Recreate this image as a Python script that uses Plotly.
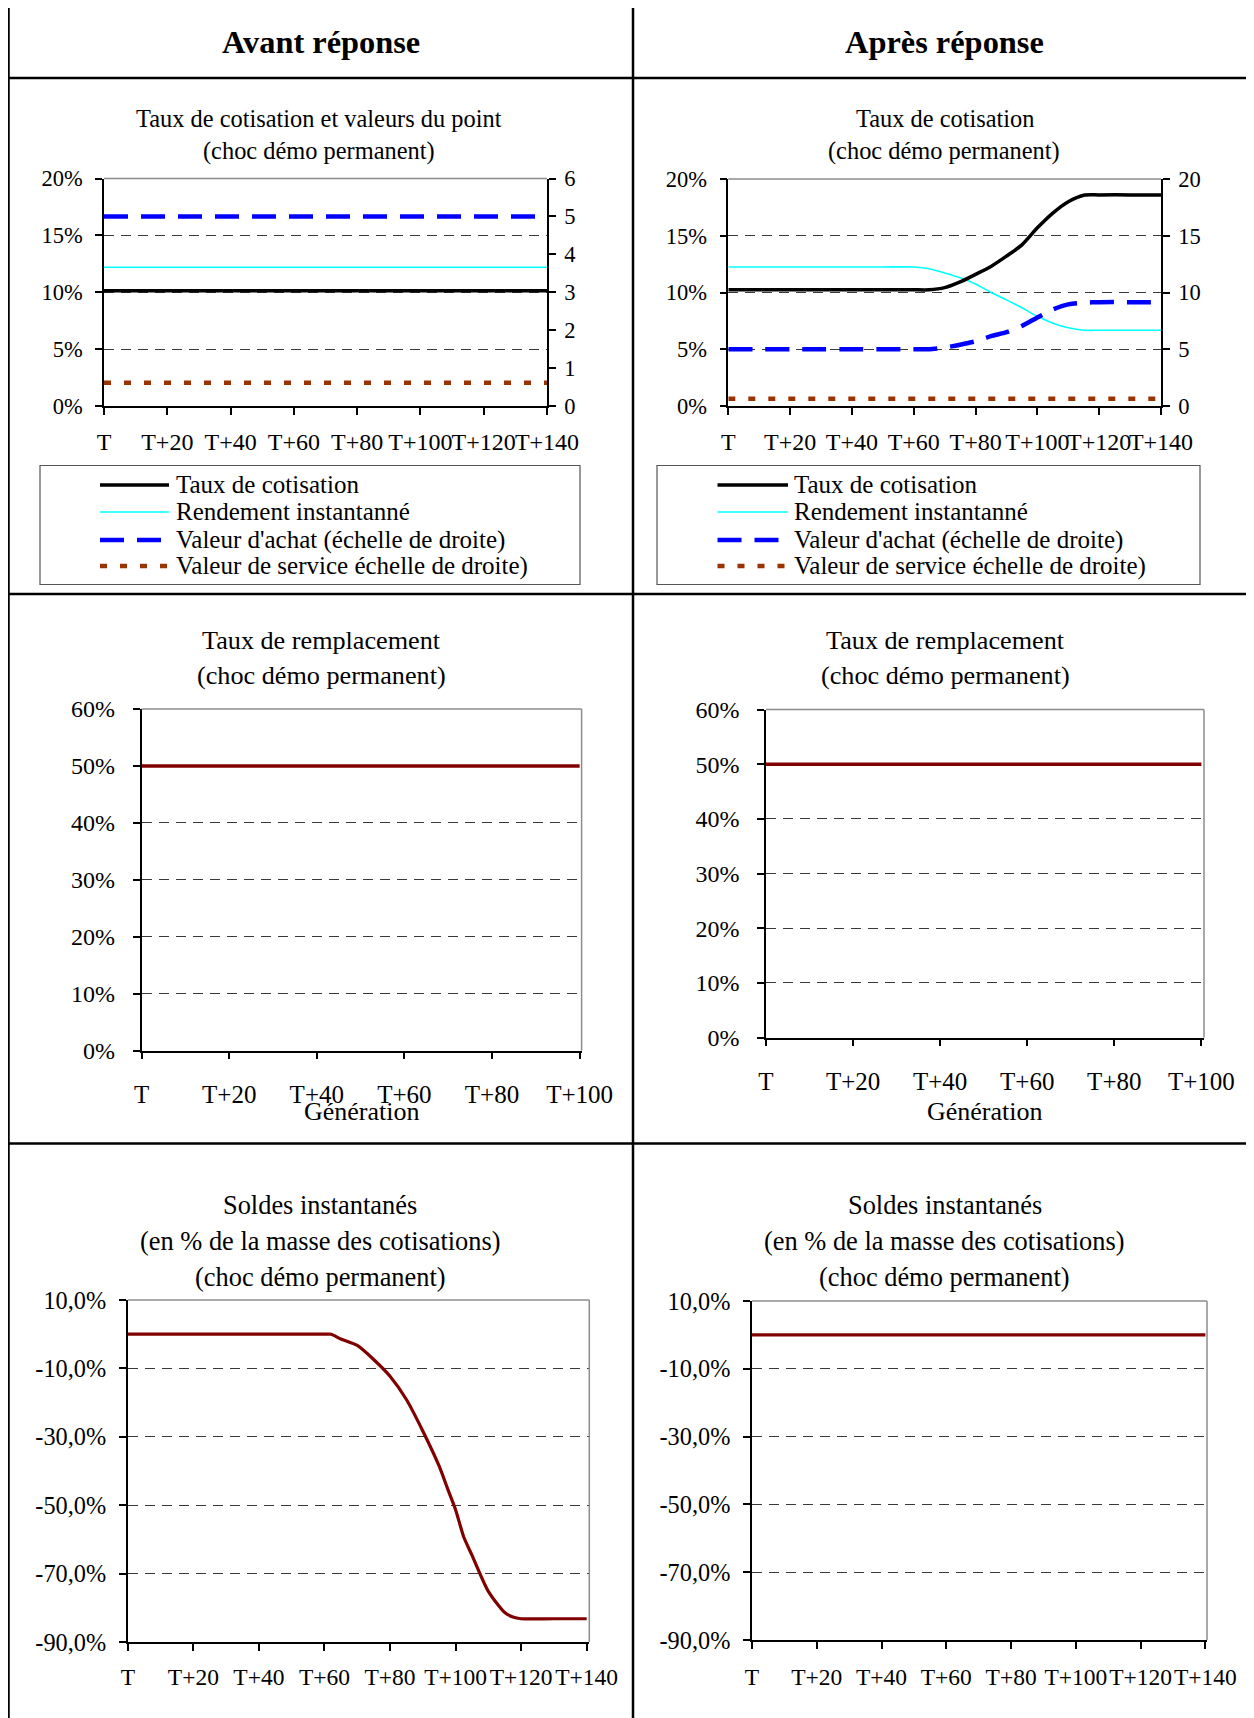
import plotly.graph_objects as go

W, H = 1254, 1718
FONT = "Liberation Serif"

# ---------------- data ----------------
TICKS_140 = [0, 20, 40, 60, 80, 100, 120, 140]
LABELS_140 = ["T", "T+20", "T+40", "T+60", "T+80", "T+100", "T+120", "T+140"]
TICKS_100 = [0, 20, 40, 60, 80, 100]
LABELS_100 = ["T", "T+20", "T+40", "T+60", "T+80", "T+100"]

HEADERS = ["Avant réponse", "Après réponse"]
LEGEND_NAMES = ["Taux de cotisation", "Rendement instantanné",
                "Valeur d'achat (échelle de droite)", "Valeur de service échelle de droite)"]

# Chart 1 : avant réponse (% left, point values right 0-6)
gen_flat = [0, 140]
avant_taux = [10.15, 10.15]
avant_rend = [12.2, 12.2]
avant_achat = [5.0, 5.0]
avant_service = [0.62, 0.62]

# Chart 2 : après réponse (% left, point values right 0-20)
gen_apres = [0, 10, 20, 30, 40, 50, 60, 65, 70, 75, 80, 85, 90, 95, 100, 105, 110, 115, 120, 130, 140]
apres_taux = [10.24, 10.24, 10.24, 10.24, 10.24, 10.24, 10.24, 10.24, 10.43, 10.93, 11.6, 12.3,
              13.2, 14.2, 15.7, 17.0, 18.0, 18.57, 18.6, 18.6, 18.6]
apres_rend = [12.25, 12.25, 12.25, 12.25, 12.25, 12.25, 12.25, 12.1, 11.72, 11.3, 10.75, 10.0,
              9.35, 8.65, 7.9, 7.3, 6.9, 6.68, 6.67, 6.67, 6.67]
apres_achat = [5.0, 5.0, 5.0, 5.0, 5.0, 5.0, 5.0, 5.0, 5.15, 5.4, 5.7, 6.15,
               6.5, 7.05, 7.8, 8.5, 8.95, 9.1, 9.15, 9.15, 9.15]
apres_service = [0.64, 0.64]

# Taux de remplacement (%)
gen_rempl = [0, 100]
avant_rempl = [50.0, 50.0]
apres_rempl = [50.0, 50.0]

# Soldes instantanés (% de la masse des cotisations)
gen_soldes = [0, 20, 40, 60, 62, 65, 70, 75, 80, 85, 90, 95, 97.5, 100, 102.5, 105, 110, 115,
              117.5, 120, 130, 140]
avant_soldes = [0.0, 0.0, 0.0, 0.0, 0.0, -1.4, -3.3, -7.4, -12.3, -19.1, -28.3, -38.6, -45.0,
                -51.3, -59.3, -64.6, -75.2, -81.4, -82.7, -83.2, -83.2, -83.2]
apres_soldes = [0.0, 0.0]
SOLDES_TICKS = [10, -10, -30, -50, -70, -90]
SOLDES_LABELS = ["10,0%", "-10,0%", "-30,0%", "-50,0%", "-70,0%", "-90,0%"]

# ---------------- helpers ----------------
OFF = 8  # page body margin


def px(x):
    return (x - OFF) / W


def py(y):
    return 1 - (y - OFF) / H


def dom_x(a, b):
    return [px(a), px(b)]


def dom_y(top, bottom):
    return [py(bottom), py(top)]


def tf(size):
    return dict(family=FONT, size=size, color="black")


GRID = dict(showgrid=True, gridcolor="#3a3a3a", gridwidth=1, griddash="10px,7px")

fig = go.Figure()

C_TAUX = dict(color="black", width=3.5)
C_REND = dict(color="#00FFFF", width=1.6)
C_ACHAT = dict(color="#0000FF", width=4.5, dash="24px,13px")
C_SERV = dict(color="#993300", width=4.5, dash="7px,13px")
C_RED = dict(color="#800000", width=3.5)


def smooth(style):
    return dict(style, shape="spline", smoothing=0.7)


# chart 1
fig.add_trace(go.Scatter(x=gen_flat, y=avant_taux, mode="lines", line=C_TAUX, xaxis="x", yaxis="y", name=LEGEND_NAMES[0]))
fig.add_trace(go.Scatter(x=gen_flat, y=avant_rend, mode="lines", line=C_REND, xaxis="x", yaxis="y", name=LEGEND_NAMES[1]))
fig.add_trace(go.Scatter(x=gen_flat, y=avant_achat, mode="lines", line=C_ACHAT, xaxis="x", yaxis="y2", name=LEGEND_NAMES[2]))
fig.add_trace(go.Scatter(x=gen_flat, y=avant_service, mode="lines", line=C_SERV, xaxis="x", yaxis="y2", name=LEGEND_NAMES[3]))
# chart 2
fig.add_trace(go.Scatter(x=gen_apres, y=apres_rend, mode="lines", line=smooth(C_REND), xaxis="x2", yaxis="y3", name=LEGEND_NAMES[1]))
fig.add_trace(go.Scatter(x=gen_apres, y=apres_taux, mode="lines", line=smooth(C_TAUX), xaxis="x2", yaxis="y3", name=LEGEND_NAMES[0]))
fig.add_trace(go.Scatter(x=gen_apres, y=apres_achat, mode="lines", line=smooth(C_ACHAT), xaxis="x2", yaxis="y4", name=LEGEND_NAMES[2]))
fig.add_trace(go.Scatter(x=gen_flat, y=apres_service, mode="lines", line=C_SERV, xaxis="x2", yaxis="y4", name=LEGEND_NAMES[3]))
# chart 3/4
fig.add_trace(go.Scatter(x=gen_rempl, y=avant_rempl, mode="lines", line=C_RED, xaxis="x3", yaxis="y5", name="Taux de remplacement"))
fig.add_trace(go.Scatter(x=gen_rempl, y=apres_rempl, mode="lines", line=C_RED, xaxis="x4", yaxis="y6", name="Taux de remplacement"))
# chart 5/6
fig.add_trace(go.Scatter(x=gen_soldes, y=avant_soldes, mode="lines",
                         line=smooth(dict(color="#800000", width=3.2)), xaxis="x5", yaxis="y7", name="Soldes"))
fig.add_trace(go.Scatter(x=gen_flat, y=apres_soldes, mode="lines", line=dict(color="#800000", width=3.2), xaxis="x6", yaxis="y8", name="Soldes"))


def xaxis(domain, anchor, ticks, labels, rng, standoff, size):
    return dict(domain=domain, anchor=anchor, range=rng, tickmode="array", tickvals=ticks,
                ticktext=labels, showline=True, linecolor="black", linewidth=1.5,
                ticks="outside", ticklen=7, tickwidth=1.5, tickcolor="black",
                showgrid=False, zeroline=False, tickfont=tf(size), ticklabelstandoff=int(standoff),
                tickangle=0, automargin=False, fixedrange=True)


def yaxis(domain, anchor, rng, size, dtick=None, suffix="", tickvals=None, ticktext=None, standoff=10):
    d = dict(domain=domain, anchor=anchor, range=rng, showline=True, linecolor="black",
             linewidth=1.5, ticks="outside", ticklen=7, tickwidth=1.5, tickcolor="black",
             zeroline=False, tickfont=tf(size), ticklabelstandoff=int(standoff), automargin=False,
             fixedrange=True, **GRID)
    if tickvals is not None:
        d.update(tickmode="array", tickvals=tickvals, ticktext=ticktext)
    else:
        d.update(dtick=dtick, tick0=0, ticksuffix=suffix)
    return d


def y2axis(overlay, anchor, rng, dtick, size):
    return dict(overlaying=overlay, anchor=anchor, side="right", range=rng, dtick=dtick, tick0=0,
                showline=True, linecolor="black", linewidth=1.5, ticks="outside", ticklen=7,
                tickwidth=1.5, tickcolor="black", showgrid=False, zeroline=False,
                tickfont=tf(size), ticklabelstandoff=4, automargin=False, fixedrange=True)


D1x, D1y = dom_x(104, 547), dom_y(178.5, 406.2)
D2x, D2y = dom_x(728.3, 1161), dom_y(179, 406)
D3x, D3y = dom_x(141.6, 581.6), dom_y(709, 1050.7)
D4x, D4y = dom_x(766, 1204), dom_y(709.6, 1037.5)
D5x, D5y = dom_x(127.8, 589.3), dom_y(1300, 1642)
D6x, D6y = dom_x(752, 1207), dom_y(1301, 1640)

fig.update_layout(
    width=W, height=H, margin=dict(l=0, r=0, t=0, b=0, autoexpand=False),
    paper_bgcolor="white", plot_bgcolor="white", showlegend=False,
    font=dict(family=FONT, color="black"),
    xaxis=xaxis(D1x, "y", TICKS_140, LABELS_140, [0, 140], 6, 24),
    yaxis=yaxis(D1y, "x", [0, 20], 22.5, dtick=5, suffix="%", standoff=8),
    yaxis2=y2axis("y", "x", [0, 6], 1, 22.5),
    xaxis2=xaxis(D2x, "y3", TICKS_140, LABELS_140, [0, 140], 6, 24),
    yaxis3=yaxis(D2y, "x2", [0, 20], 22.5, dtick=5, suffix="%", standoff=8),
    yaxis4=y2axis("y3", "x2", [0, 20], 5, 22.5),
    xaxis3=xaxis(D3x, "y5", TICKS_100, LABELS_100, [0, 100.45], 14, 25),
    yaxis5=yaxis(D3y, "x3", [0, 60], 24, dtick=10, suffix="%", standoff=13),
    xaxis4=xaxis(D4x, "y6", TICKS_100, LABELS_100, [0, 100.6], 14, 25),
    yaxis6=yaxis(D4y, "x4", [0, 60], 24, dtick=10, suffix="%", standoff=13),
    xaxis5=xaxis(D5x, "y7", TICKS_140, LABELS_140, [0, 140.8], 6, 23.5),
    yaxis7=yaxis(D5y, "x5", [-90, 10], 24.3, tickvals=SOLDES_TICKS, ticktext=SOLDES_LABELS, standoff=8),
    xaxis6=xaxis(D6x, "y8", TICKS_140, LABELS_140, [0, 140.5], 8, 23.5),
    yaxis8=yaxis(D6y, "x6", [-90, 10], 24.3, tickvals=SOLDES_TICKS, ticktext=SOLDES_LABELS, standoff=8),
)

shapes = []
GRAY = dict(color="#8c8c8c", width=1.5)
# plot-area borders (top, and right where no secondary axis)
for xa, ya, right in [("x", "y", False), ("x2", "y3", False), ("x3", "y5", True),
                      ("x4", "y6", True), ("x5", "y7", True), ("x6", "y8", True)]:
    shapes.append(dict(type="line", xref=f"{xa} domain", yref=f"{ya} domain", x0=0, x1=1, y0=1, y1=1, line=GRAY))
    if right:
        shapes.append(dict(type="line", xref=f"{xa} domain", yref=f"{ya} domain", x0=1, x1=1, y0=0, y1=1, line=GRAY))

# table lines
TL = dict(color="black", width=2.5)
shapes += [
    dict(type="line", xref="paper", yref="paper", x0=px(8.5), x1=px(8.5), y0=py(5.5), y1=0, line=TL),
    dict(type="line", xref="paper", yref="paper", x0=px(8.5), x1=1, y0=py(5.5), y1=py(5.5), line=TL),
    dict(type="line", xref="paper", yref="paper", x0=px(8.5), x1=1, y0=py(78), y1=py(78), line=TL),
    dict(type="line", xref="paper", yref="paper", x0=px(8.5), x1=1, y0=py(594), y1=py(594), line=TL),
    dict(type="line", xref="paper", yref="paper", x0=px(8.5), x1=1, y0=py(1143.5), y1=py(1143.5), line=TL),
    dict(type="line", xref="paper", yref="paper", x0=px(633), x1=px(633), y0=py(5.5), y1=0, line=TL),
]

annotations = []


def text(x, y, s, size=23, bold=False, xanchor="center"):
    annotations.append(dict(xref="paper", yref="paper", x=px(x), y=py(y), text=(f"<b>{s}</b>" if bold else s),
                            showarrow=False, xanchor=xanchor, yanchor="middle",
                            font=dict(family=FONT, size=size, color="black")))


# headers
text(320.5, 42, HEADERS[0], size=32.4, bold=True)
text(944, 42, HEADERS[1], size=32.4, bold=True)

# chart titles
text(319, 119, "Taux de cotisation et valeurs du point", size=24.4)
text(319, 151, "(choc démo permanent)", size=24.4)
text(945, 119, "Taux de cotisation", size=24.4)
text(944, 151, "(choc démo permanent)", size=24.4)
text(321, 640, "Taux de remplacement", size=26.2)
text(321, 676, "(choc démo permanent)", size=26.2)
text(945, 640, "Taux de remplacement", size=26.2)
text(945, 676, "(choc démo permanent)", size=26.2)
for cx in (320, 944.5):
    text(cx, 1204.5, "Soldes instantanés", size=26.4)
    text(cx, 1241, "(en % de la masse des cotisations)", size=26.4)
    text(cx, 1276.5, "(choc démo permanent)", size=26.4)

# x-axis titles
text(361.6, 1111, "Génération", size=26)
text(985, 1111, "Génération", size=26)

# legends
LEG_STYLES = [C_TAUX, C_REND, C_ACHAT, C_SERV]
LEG_Y = [485, 512, 540, 566]
for (bx0, bx1, lx0, lx1, tx) in [(40, 580, 100, 169, 173.5), (657, 1200, 717.5, 788, 792)]:
    shapes.append(dict(type="rect", xref="paper", yref="paper", x0=px(bx0), x1=px(bx1),
                       y0=py(584.5), y1=py(465.5), line=dict(color="#555555", width=1.2),
                       fillcolor="rgba(0,0,0,0)"))
    for name, st, yy in zip(LEGEND_NAMES, LEG_STYLES, LEG_Y):
        shapes.append(dict(type="line", xref="paper", yref="paper", x0=px(lx0), x1=px(lx1),
                           y0=py(yy), y1=py(yy), line=st))
        text(tx, yy, name, size=25, xanchor="left")

fig.update_layout(shapes=shapes, annotations=annotations)
fig.write_html("out.html")
